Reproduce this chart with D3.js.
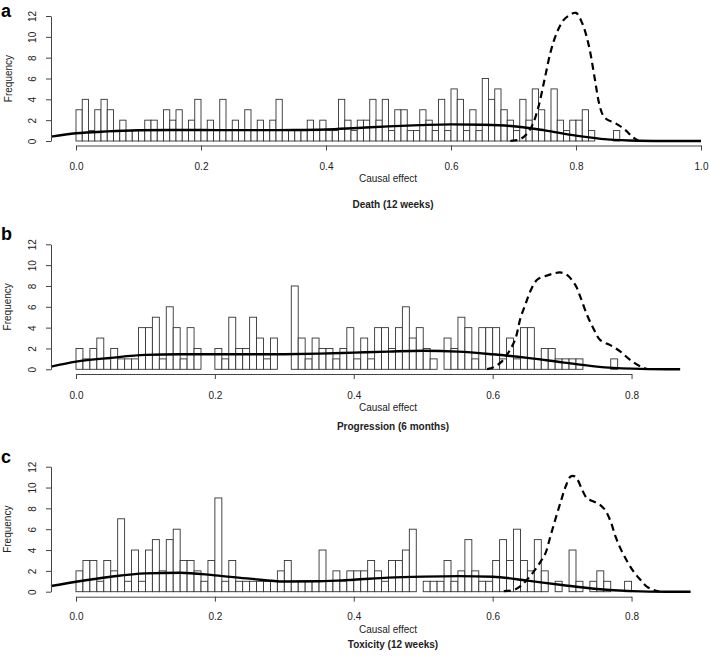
<!DOCTYPE html>
<html><head><meta charset="utf-8">
<script src="https://cdn.jsdelivr.net/npm/d3@7"></script>
<style>body{margin:0;background:#fff}svg{display:block;font-family:"Liberation Sans",Arial,Helvetica,sans-serif}</style>
</head><body><svg id="chart" width="709" height="661"></svg>
<script>
const binWidth = 0.01;
const yTicks = [0, 2, 4, 6, 8, 10, 12];
const xTicksA = [0, 0.2, 0.4, 0.6, 0.8, 1.0];
const xTicksBC = [0, 0.2, 0.4, 0.6, 0.8];
const letters = ["a", "b", "c"];
const titles = ["Death (12 weeks)", "Progression (6 months)", "Toxicity (12 weeks)"];

const countsA = [3,4,1,3,4,3,1,2,1,1,1,2,2,1,3,2,3,1,2,4,1,2,1,4,1,2,1,3,1,2,1,2,4,1,1,1,1,2,1,2,1,1,4,2,1,2,2,4,2,4,1,3,3,1,1,3,2,1,4,1,5,4,1,3,1,6,4,5,3,2,1,4,2,5,3,1,5,2,1,2,2,3,1,0,0,0,1];
const countsB = [2,1,2,3,1,2,1,1,1,4,4,5,1,6,4,1,4,2,0,0,2,1,5,2,2,5,3,1,3,0,0,8,3,1,3,2,2,1,2,4,1,3,1,4,4,2,4,6,3,4,2,1,0,3,2,5,4,1,4,4,4,1,3,1,4,4,1,2,2,1,1,1,1,0,0,0,0,1];
const countsC = [2,3,3,1,3,2,7,1,4,1,4,5,2,5,6,3,3,2,1,3,9,1,3,1,1,1,1,1,1,2,3,1,1,1,1,4,1,2,1,2,2,2,3,2,1,3,3,4,6,0,1,1,1,3,1,2,5,2,1,1,3,5,3,6,3,2,5,2,0,1,0,4,1,0,1,2,1,0,0,1];

const solidA = [[-0.04,0.42],[0,0.74],[0.05,0.92],[0.1,1.03],[0.15,1.06],[0.2,1.05],[0.25,1.04],[0.3,1.04],[0.35,1.05],[0.4,1.1],[0.45,1.25],[0.5,1.4],[0.55,1.52],[0.6,1.6],[0.65,1.56],[0.7,1.42],[0.75,1.02],[0.8,0.52],[0.85,0.16],[0.9,0.03],[0.95,0],[1.0,0]];
const dashedA = [[0.695,0],[0.70,0.05],[0.71,0.15],[0.72,0.6],[0.73,1.5],[0.74,3.3],[0.75,6.0],[0.76,8.7],[0.77,10.5],[0.78,11.6],[0.79,12.1],[0.80,12.3],[0.81,11.3],[0.82,9.3],[0.83,6.0],[0.837,3.6],[0.843,2.5],[0.85,2.05],[0.86,1.8],[0.87,1.45],[0.88,1.0],[0.89,0.4],[0.90,0.02]];
const solidB = [[-0.036,0.26],[0,0.74],[0.05,1.1],[0.1,1.38],[0.15,1.44],[0.2,1.44],[0.25,1.44],[0.3,1.45],[0.35,1.5],[0.4,1.6],[0.45,1.7],[0.5,1.78],[0.55,1.7],[0.6,1.44],[0.65,1.1],[0.7,0.67],[0.75,0.26],[0.8,0.06],[0.85,0],[0.87,0]];
const dashedB = [[0.592,0.02],[0.601,0.19],[0.613,0.74],[0.625,1.86],[0.633,2.98],[0.640,4.9],[0.647,6.2],[0.654,7.46],[0.664,8.6],[0.676,8.96],[0.688,9.2],[0.697,9.3],[0.707,9.06],[0.719,8.1],[0.726,7.0],[0.736,5.2],[0.746,3.8],[0.755,2.8],[0.770,2.3],[0.784,1.7],[0.798,0.9],[0.813,0.26],[0.822,0.03]];
const solidC = [[-0.036,0.54],[0,0.96],[0.05,1.44],[0.1,1.76],[0.15,1.82],[0.2,1.57],[0.25,1.25],[0.3,0.98],[0.35,1.0],[0.4,1.15],[0.45,1.35],[0.5,1.45],[0.55,1.5],[0.6,1.44],[0.65,1.06],[0.7,0.64],[0.75,0.26],[0.8,0.06],[0.85,0],[0.885,0]];
const dashedC = [[0.616,0.06],[0.630,0.16],[0.640,0.54],[0.649,1.12],[0.659,1.92],[0.669,2.88],[0.676,3.68],[0.683,5.28],[0.690,6.88],[0.698,8.64],[0.705,10.08],[0.712,11.04],[0.717,11.1],[0.722,10.78],[0.729,9.76],[0.736,8.96],[0.746,8.64],[0.755,8.32],[0.762,7.84],[0.770,6.72],[0.777,5.28],[0.784,4.16],[0.794,2.88],[0.803,1.92],[0.813,1.12],[0.822,0.48],[0.832,0.16],[0.84,0.02]];

const panels = [
  {counts: countsA, solid: solidA, dashed: dashedA, xDom: [-0.04, 1.04], xTicks: xTicksA, fmt: d3.format(".1f"),
   yZero: 141, yTop: 16, axisY: 145.5, tickLabY: 166, xlabY: 178, titleY: 204, letterY: 17},
  {counts: countsB, solid: solidB, dashed: dashedB, xDom: [-0.036, 0.936], xTicks: xTicksBC, fmt: d3.format(".1f"),
   yZero: 369.3, yTop: 244.3, axisY: 374, tickLabY: 395, xlabY: 407, titleY: 426, letterY: 240},
  {counts: countsC, solid: solidC, dashed: dashedC, xDom: [-0.036, 0.936], xTicks: xTicksBC, fmt: d3.format(".1f"),
   yZero: 591.7, yTop: 466.7, axisY: 596.7, tickLabY: 617, xlabY: 629, titleY: 644, letterY: 463}
];

const svg = d3.select("#chart");
const left = 51, right = 726;
const axisCol = "#444", textCol = "#222";

panels.forEach((p, k) => {
  const x = d3.scaleLinear().domain(p.xDom).range([left, right]);
  const y = d3.scaleLinear().domain([0, 12]).range([p.yZero, p.yTop]);
  const g = svg.append("g");

  g.append("g").selectAll("rect").data(p.counts).join("rect")
    .attr("x", (d, i) => x(i * binWidth))
    .attr("width", (d, i) => x((i + 1) * binWidth) - x(i * binWidth))
    .attr("y", d => y(d))
    .attr("height", d => y(0) - y(d))
    .attr("fill", "#fff").attr("stroke", "#333").attr("stroke-width", 0.9);

  const line = d3.line().x(d => x(d[0])).y(d => y(d[1])).curve(d3.curveMonotoneX);
  g.append("path").attr("d", line(p.solid)).attr("fill", "none")
    .attr("stroke", "#000").attr("stroke-width", 2.4);
  const line2 = d3.line().x(d => x(d[0])).y(d => y(d[1])).curve(d3.curveCatmullRom);
  g.append("path").attr("d", line2(p.dashed)).attr("fill", "none")
    .attr("stroke", "#000").attr("stroke-width", 2.2).attr("stroke-dasharray", "7,4.5");

  const xt = p.xTicks;
  const xa = d3.scaleLinear().domain([xt[0], xt[xt.length - 1]]).range([x(xt[0]), x(xt[xt.length - 1])]);
  const gx = g.append("g").attr("transform", `translate(0,${p.axisY})`)
    .call(d3.axisBottom(xa).tickValues(xt).tickFormat(p.fmt).tickSize(5).tickSizeOuter(0));
  gx.select(".domain").attr("stroke", axisCol);
  gx.selectAll(".tick line").attr("stroke", axisCol);
  gx.selectAll(".tick text").attr("y", p.tickLabY - p.axisY).attr("dy", "0.35em")
    .attr("fill", textCol).style("font-size", "10px").style("font-family", "Liberation Sans, Arial, sans-serif");

  const ya = d3.scaleLinear().domain([0, 12]).range([y(0), y(12)]);
  const gy = g.append("g").attr("transform", `translate(${left},0)`)
    .call(d3.axisLeft(ya).tickValues(yTicks).tickSize(5).tickSizeOuter(0));
  gy.select(".domain").attr("stroke", axisCol);
  gy.selectAll(".tick line").attr("stroke", axisCol);
  gy.selectAll(".tick text").attr("x", 0).attr("y", 0).attr("dy", "0.35em")
    .attr("transform", "translate(-19,0) rotate(-90)").attr("text-anchor", "middle")
    .attr("fill", textCol).style("font-size", "10px").style("font-family", "Liberation Sans, Arial, sans-serif");

  g.append("text").attr("x", 8).attr("y", (p.yZero + p.yTop) / 2).attr("dy", "0.35em")
    .attr("transform", `rotate(-90,8,${(p.yZero + p.yTop) / 2})`).attr("text-anchor", "middle")
    .attr("font-size", 10).attr("fill", textCol).text("Frequency");
  g.append("text").attr("x", 388).attr("y", p.xlabY).attr("dy", "0.35em").attr("text-anchor", "middle")
    .attr("font-size", 10).attr("fill", textCol).text("Causal effect");
  g.append("text").attr("x", 393).attr("y", p.titleY).attr("dy", "0.35em").attr("text-anchor", "middle")
    .attr("font-size", 10).attr("font-weight", "bold").attr("fill", textCol).text(titles[k]);
  g.append("text").attr("x", 1).attr("y", p.letterY)
    .attr("font-size", 18).attr("font-weight", "bold").attr("fill", "#000").text(letters[k]);
});
</script></body></html>
